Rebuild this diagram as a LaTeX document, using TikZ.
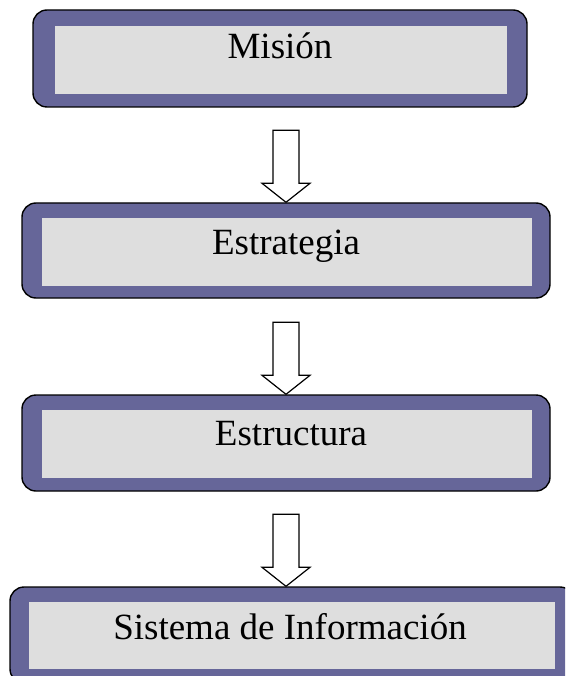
\documentclass[tikz,border=0pt]{standalone}
\usepackage{fontspec}
\setmainfont{Liberation Serif}
\definecolor{framepurple}{RGB}{102,102,153}
\definecolor{panelgray}{RGB}{222,222,222}
\begin{document}
\begin{tikzpicture}[x=1pt,y=-1pt,
  outerbox/.style={draw=black, line width=1.4pt, fill=framepurple,
    rounded corners=14pt, inner sep=0pt},
  innerbox/.style={fill=panelgray, inner sep=0pt},
  boxlabel/.style={anchor=base, inner sep=0pt,
    font=\fontsize{37}{40}\selectfont},
  flowarrow/.style={draw=black, line width=1.2pt, fill=white,
    line join=miter},
  downarrow/.pic={
    \draw[flowarrow] (0,0) -- (-24,-19) -- (-13,-19) -- (-13,-72)
      -- (13,-72) -- (13,-19) -- (24,-19) -- cycle;
  },
]
\useasboundingbox (0,0) rectangle (565,676);
\clip (0,0) rectangle (565,676);

% Mision
\node[outerbox, minimum width=494pt, minimum height=97pt] (mision) at (280,58.5) {};
\node[innerbox, minimum width=452pt, minimum height=68pt] (mision-in) at (281,60) {};
\node[boxlabel] (mision-txt) at (280,59) {Misión};

% Estrategia
\node[outerbox, minimum width=528pt, minimum height=95pt] (estrategia) at (286,250.5) {};
\node[innerbox, minimum width=490pt, minimum height=68pt] (estrategia-in) at (287,252) {};
\node[boxlabel] (estrategia-txt) at (286,254) {Estrategia};

% Estructura
\node[outerbox, minimum width=528pt, minimum height=96pt] (estructura) at (286,443) {};
\node[innerbox, minimum width=490pt, minimum height=68pt] (estructura-in) at (287,444) {};
\node[boxlabel] (estructura-txt) at (291,445) {Estructura};

% Sistema de Informacion
\node[outerbox, minimum width=564pt, minimum height=96pt] (sistema) at (292,635) {};
\node[innerbox, minimum width=526pt, minimum height=67pt] (sistema-in) at (292,635.5) {};
\node[boxlabel] (sistema-txt) at (290,639) {Sistema de Información};

% block arrows between the stages
\pic at (estrategia.north) {downarrow};
\pic at (estructura.north) {downarrow};
\pic at (sistema.north -| estructura.north) {downarrow};
\end{tikzpicture}
\end{document}
